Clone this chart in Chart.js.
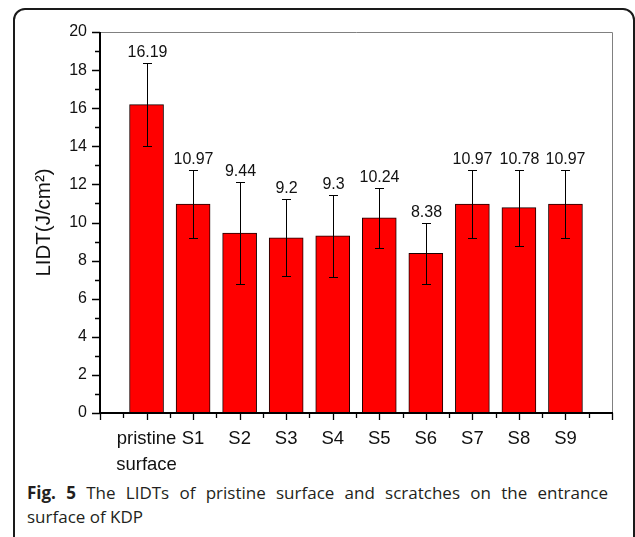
<!DOCTYPE html>
<html>
<head>
<meta charset="utf-8">
<title>LIDT</title>
<script src="https://cdn.jsdelivr.net/npm/chart.js@4.4.0/dist/chart.umd.min.js"></script>
<style>
  html, body { margin: 0; padding: 0; background: #fff; }
  body { width: 635px; height: 537px; position: relative; overflow: hidden; }
  #frame { position: absolute; left: 13px; top: 8px; width: 622px; height: 640px;
           border: 2px solid #1a1a1a; border-radius: 12px; box-sizing: border-box; }
  #wrap { position: absolute; left: 0; top: 0; width: 635px; height: 470px; }
  #caption { position: absolute; left: 27px; top: 481px; width: 581px; white-space: nowrap;
             font-family: "Open Sans", sans-serif; font-size: 17px; line-height: 24px; color: #231f20; }
  #caption .l1 { text-align: justify; text-align-last: justify; }
  #caption b { font-weight: 700; }
</style>
</head>
<body>
<div id="frame"></div>
<div id="wrap"><canvas id="lidtChart" width="635" height="470"></canvas></div>
<div id="caption">
  <div class="l1"><b>Fig. 5</b> The LIDTs of pristine surface and scratches on the entrance</div>
  <div>surface of KDP</div>
</div>
<script>
// data
const categories = [['pristine', 'surface'], 'S1', 'S2', 'S3', 'S4', 'S5', 'S6', 'S7', 'S8', 'S9'];
const lidt = [16.19, 10.97, 9.44, 9.2, 9.3, 10.24, 8.38, 10.97, 10.78, 10.97];
const lidtErr = [2.16, 1.78, 2.66, 2.02, 2.14, 1.57, 1.61, 1.78, 1.99, 1.78];
const yTicks = [0, 2, 4, 6, 8, 10, 12, 14, 16, 18, 20];

const FONT = "'Liberation Sans', Arial, sans-serif";

// the x axis has an empty slot on each side of the bars
const labels = [''].concat(categories, ['']);
const values = [null].concat(lidt, [null]);

// axes, ticks, frame, error bars and value labels
const decor = {
  id: 'decor',
  afterDatasetsDraw(chart) {
    const { ctx, chartArea: a, scales: { x, y } } = chart;
    ctx.save();

    // error bars
    ctx.strokeStyle = '#000';
    ctx.lineWidth = 1;
    ctx.font = '16px ' + FONT;
    ctx.fillStyle = '#111';
    ctx.textAlign = 'center';
    ctx.textBaseline = 'middle';
    lidt.forEach((v, i) => {
      const px = Math.round(x.getPixelForValue(i + 1)) + 0.5;
      const top = Math.round(y.getPixelForValue(v + lidtErr[i])) + 0.5;
      const bot = Math.round(y.getPixelForValue(v - lidtErr[i])) + 0.5;
      ctx.beginPath();
      ctx.moveTo(px, top); ctx.lineTo(px, bot);
      ctx.moveTo(px - 4.5, top); ctx.lineTo(px + 4.5, top);
      ctx.moveTo(px - 4.5, bot); ctx.lineTo(px + 4.5, bot);
      ctx.stroke();
      ctx.fillText(String(v), px, top - 11);
    });

    // top and right border of the plot
    ctx.strokeStyle = '#808080';
    ctx.beginPath();
    ctx.moveTo(a.left, a.top + 0.5);
    ctx.lineTo(a.right + 0.5, a.top + 0.5);
    ctx.lineTo(a.right + 0.5, a.bottom);
    ctx.stroke();

    // left and bottom axis lines
    ctx.strokeStyle = '#000';
    ctx.lineWidth = 2;
    ctx.beginPath();
    ctx.moveTo(a.left, a.top);
    ctx.lineTo(a.left, a.bottom);
    ctx.lineTo(a.right + 1, a.bottom);
    ctx.stroke();

    // tick marks (major + minor)
    ctx.lineWidth = 1.3;
    ctx.beginPath();
    for (let t = 0; t <= 20; t++) {
      const py = Math.round(y.getPixelForValue(t)) + 0.5;
      const len = t % 2 === 0 ? 8 : 5;
      ctx.moveTo(a.left - len, py); ctx.lineTo(a.left, py);
    }
    for (let k = 0; k <= 2 * (labels.length - 1); k++) {
      const px = Math.round(x.getPixelForValue(k / 2)) + 0.5;
      const len = k % 2 === 0 ? 7 : 5;
      ctx.moveTo(px, a.bottom); ctx.lineTo(px, a.bottom + len);
    }
    ctx.stroke();
    ctx.restore();
  }
};

new Chart(document.getElementById('lidtChart'), {
  type: 'bar',
  data: {
    labels: labels,
    datasets: [{
      data: values,
      backgroundColor: '#ff0000',
      borderColor: '#1a0000',
      borderWidth: 1,
      barThickness: 34
    }]
  },
  options: {
    responsive: false,
    animation: false,
    events: [],
    layout: { padding: { left: 0, top: 32, right: 23, bottom: 0 } },
    plugins: { legend: { display: false }, tooltip: { enabled: false } },
    scales: {
      x: {
        offset: false,
        grid: { display: false, drawTicks: false },
        border: { display: false },
        ticks: {
          autoSkip: false,
          maxRotation: 0,
          padding: 13,
          color: '#111',
          font: { family: FONT, size: 18.5, lineHeight: 1.42 }
        },
        afterFit(scale) { scale.height = 57; }
      },
      y: {
        min: 0,
        max: 20,
        grid: { display: false, drawTicks: false },
        border: { display: false },
        afterBuildTicks(scale) { scale.ticks = yTicks.map(v => ({ value: v })); },
        ticks: {
          padding: 13,
          color: '#111',
          font: { family: FONT, size: 16 }
        },
        title: {
          display: true,
          text: 'LIDT(J/cm²)',
          color: '#111',
          font: { family: FONT, size: 20.5 },
          padding: { top: 32, bottom: 0 }
        },
        afterFit(scale) { scale.width = 100; }
      }
    }
  },
  plugins: [decor]
});
</script>
</body>
</html>
